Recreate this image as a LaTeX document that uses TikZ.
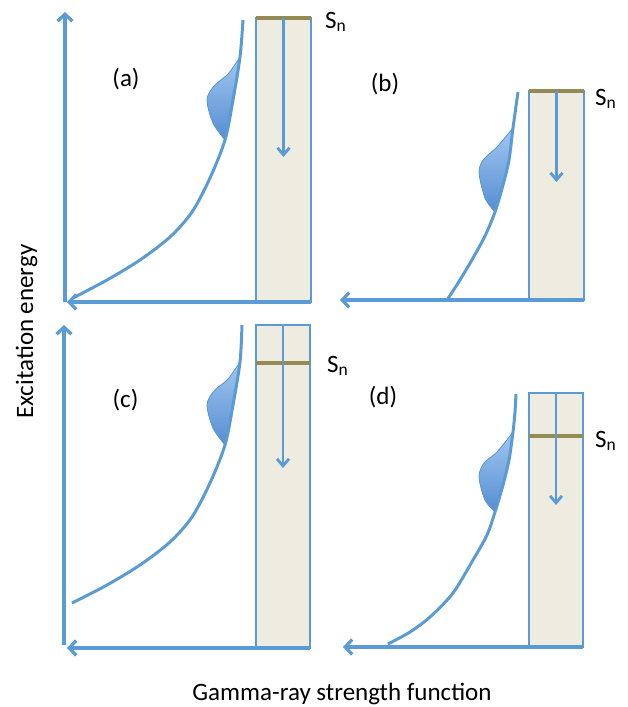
\documentclass[tikz,border=0pt]{standalone}
\usepackage{fontspec}
\setmainfont{Carlito}
\usetikzlibrary{arrows.meta}
\definecolor{lineblue}{RGB}{91,155,213}
\definecolor{boxfill}{RGB}{238,236,225}
\definecolor{snbrown}{RGB}{148,138,84}
\definecolor{bumptop}{RGB}{160,198,240}
\definecolor{bumpbot}{RGB}{86,142,210}

\begin{document}
\begin{tikzpicture}[x=1pt,y=-1pt,
  axis/.style={lineblue,line width=3.2pt,-{Straight Barb[length=7pt,width=15pt]}},
  curve/.style={lineblue,line width=3pt},
  bump/.style={top color=bumptop,bottom color=bumpbot,draw=lineblue,line width=0.8pt},
  box/.style={draw=lineblue,line width=1.5pt,fill=boxfill,inner sep=0pt,outer sep=0pt},
  sn/.style={snbrown,line width=4pt},
  drop/.style={lineblue,line width=2.8pt,-{Straight Barb[length=7pt,width=12pt]}},
  lbl/.style={font=\fontsize{25}{30}\selectfont,inner sep=0pt}]
\useasboundingbox (0,0) rectangle (628,707);

\node[box,minimum width=55pt,minimum height=284pt] (ba) at (283.5,160) {};
\node[box,minimum width=55pt,minimum height=209pt] (bb) at (556.5,195.5) {};
\node[box,minimum width=54pt,minimum height=323pt] (bc) at (283,486.5) {};
\node[box,minimum width=54pt,minimum height=254pt] (bd) at (556,520) {};

\draw[sn] (ba.north west) -- (ba.north east);
\draw[sn] (bb.north west) -- (bb.north east);
\draw[sn] ([yshift=-38pt]bc.north west) -- ([yshift=-38pt]bc.north east);
\draw[sn] ([yshift=-43pt]bd.north west) -- ([yshift=-43pt]bd.north east);

\draw[drop] (ba.north) -- ++(0,139);
\draw[drop] (bb.north) -- ++(0,91);
\draw[drop] (bc.north) -- ++(0,143);
\draw[drop] (bd.north) -- ++(0,112);

\fill[bump] plot[smooth] coordinates {(225,140) (213,123) (207,100) (214,86) (228,74) (240,57)}
  -- plot[smooth] coordinates {(240,57) (233,100) (225,140)} -- cycle;
\fill[bump] plot[smooth] coordinates {(495,212) (485,198) (479,172) (484,159) (497,147) (513,128)}
  -- plot[smooth] coordinates {(513,128) (509,160) (503,185) (495,212)} -- cycle;
\fill[bump] plot[smooth] coordinates {(225,445) (213,428) (207,405) (214,391) (228,379) (240,362)}
  -- plot[smooth] coordinates {(240,362) (233,405) (225,445)} -- cycle;
\fill[bump] plot[smooth] coordinates {(495,512) (485,500) (479,477) (484,463) (497,452) (513,432)}
  -- plot[smooth] coordinates {(513,432) (509,460) (503,485) (495,512)} -- cycle;

\draw[curve] plot[smooth] coordinates {(73,298) (107,280) (140,260) (170,237) (192,212) (210,178) (225,140) (233,100) (240,57) (243,20)};
\draw[curve] plot[smooth] coordinates {(447,300) (460,280) (473,258) (485,236) (495,212) (503,185) (509,160) (513,128) (518,92)};
\draw[curve] plot[smooth] coordinates {(72,603) (107,585) (140,565) (170,542) (192,517) (210,483) (225,445) (233,405) (240,362) (242,325)};
\draw[curve] plot[smooth] coordinates {(388,644) (410,632) (430,617) (453,593) (473,560) (487,535) (495,512) (503,485) (509,460) (513,432) (515,412) (516,394)};

\coordinate (oa) at (65,302);
\coordinate (ya) at (65,12);
\coordinate (xa) at (67,302);
\coordinate (xb) at (340,300);
\coordinate (oc) at (64,645);
\coordinate (yc) at (64,325);
\coordinate (xc) at (67,648);
\coordinate (xd) at (343,647);
\draw[axis] (oa) -- (ya);
\draw[axis] (ba.south east) -- (xa);
\draw[axis] (bb.south east) -- (xb);
\draw[axis] (oc) -- (yc);
\draw[axis] (bc.south east) -- (xc);
\draw[axis] (bd.south east) -- (xd);

\node[lbl] (la) at (126,79) {(a)};
\node[lbl] (lb) at (385,84) {(b)};
\node[lbl] (lc) at (125.5,400) {(c)};
\node[lbl] (ld) at (383,397) {(d)};

\node[lbl,anchor=base west] (sa) at (325,28) {S\textsubscript{n}};
\node[lbl,anchor=base west] (sb) at (595,105) {S\textsubscript{n}};
\node[lbl,anchor=base west] (sc) at (327,372) {S\textsubscript{n}};
\node[lbl,anchor=base west] (sd) at (595,447) {S\textsubscript{n}};

\node[lbl,rotate=90,anchor=base] (ey) at (33,331.5) {Excitation energy};
\node[lbl,anchor=base] (gx) at (342,700) {Gamma-ray strength function};
\end{tikzpicture}
\end{document}
